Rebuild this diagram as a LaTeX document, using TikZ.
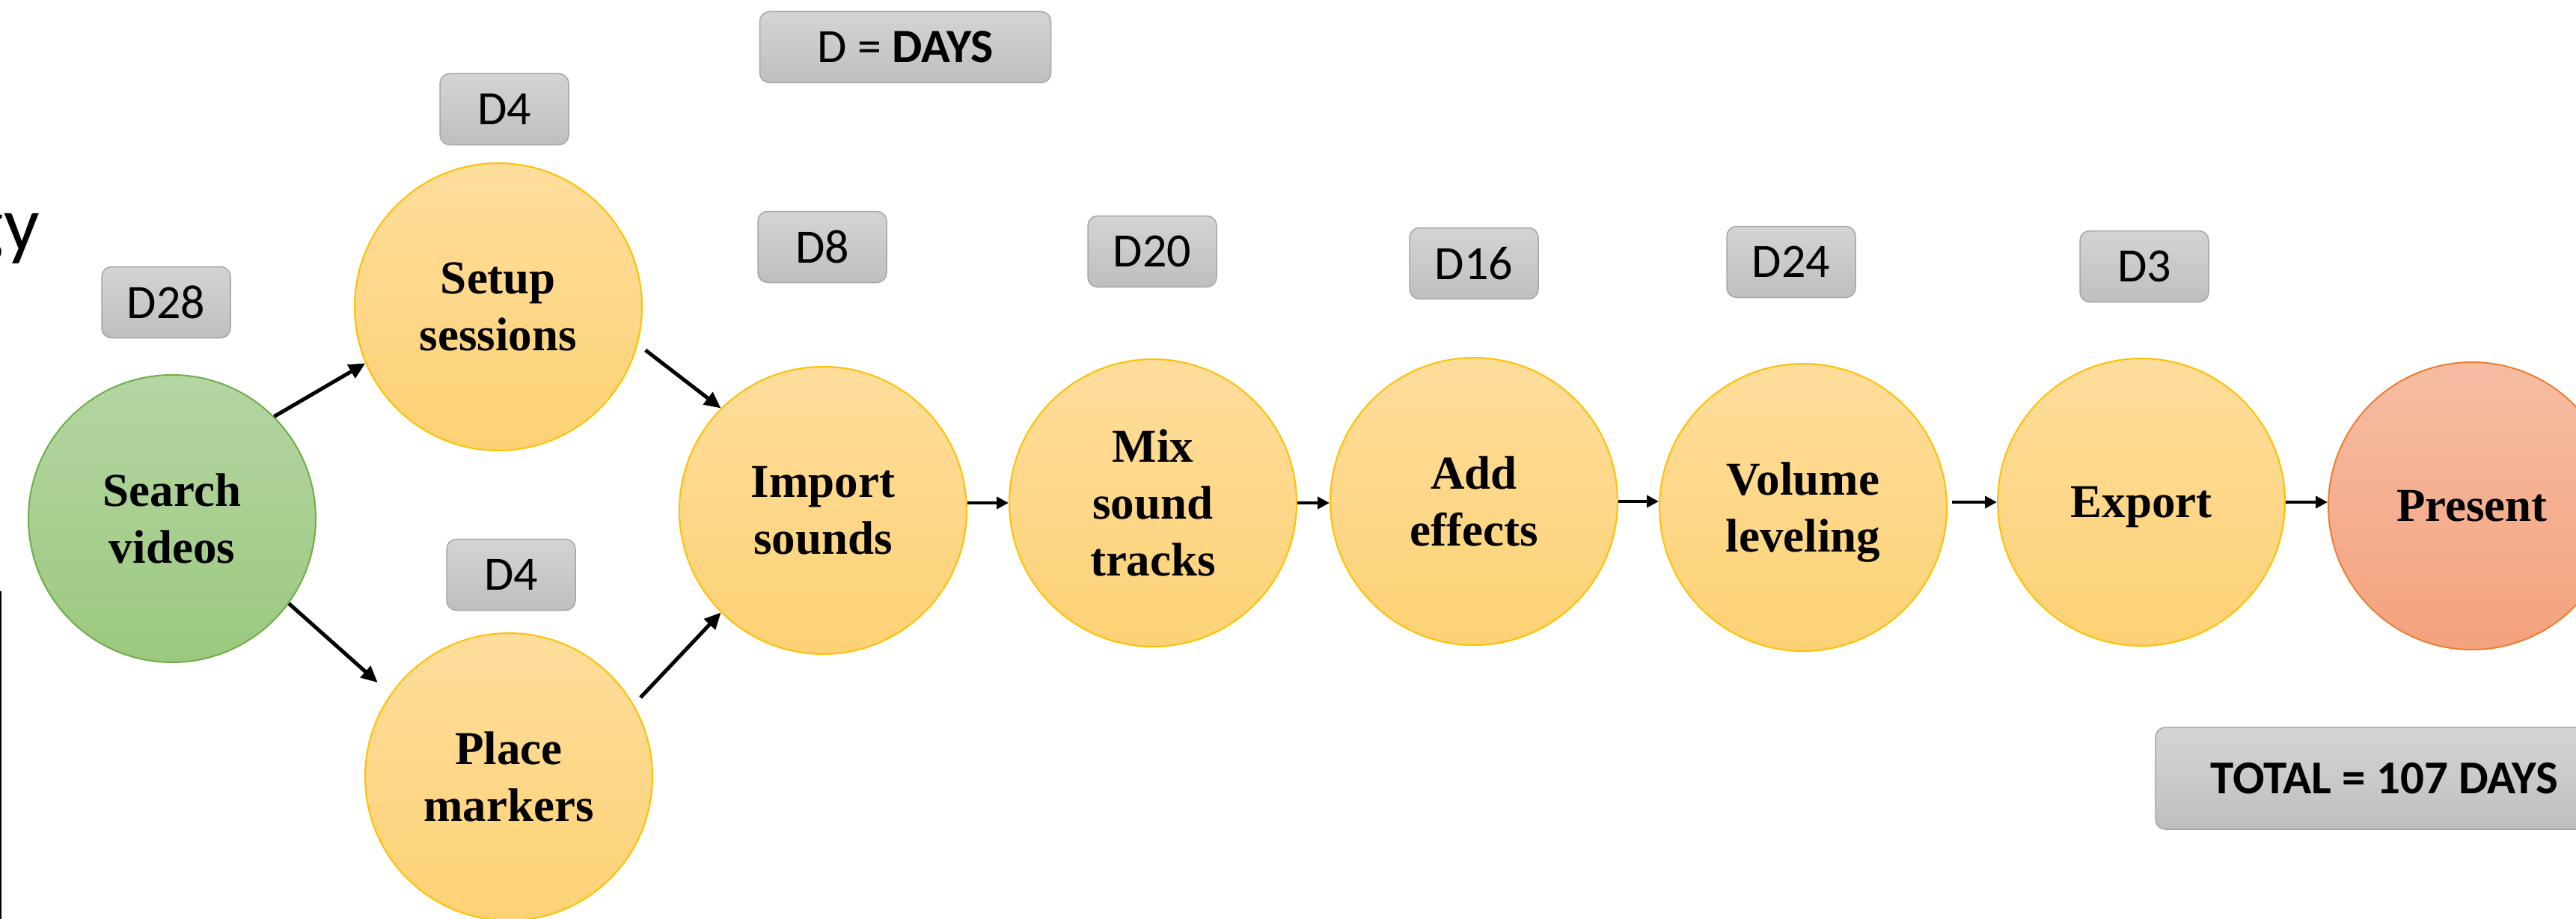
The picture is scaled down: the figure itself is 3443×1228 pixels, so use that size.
\documentclass[tikz,border=0pt]{standalone}
\usepackage{fontspec}
\setmainfont{Liberation Serif}
\newfontfamily\calibri{Carlito}
\usetikzlibrary{arrows.meta}
\definecolor{orTop}{HTML}{FEDD9C}
\definecolor{orBot}{HTML}{FDD275}
\definecolor{orLine}{HTML}{FFC000}
\definecolor{grTop}{HTML}{B4D6A3}
\definecolor{grBot}{HTML}{9CC87E}
\definecolor{grLine}{HTML}{70AD47}
\definecolor{rdTop}{HTML}{F6BDA3}
\definecolor{rdBot}{HTML}{F4A27E}
\definecolor{rdLine}{HTML}{ED7D31}
\definecolor{bxTop}{HTML}{D4D4D4}
\definecolor{bxBot}{HTML}{BFBFBF}
\definecolor{bxLine}{HTML}{A6A6A6}
\tikzset{
  task/.style={circle, minimum size=384pt, inner sep=0pt, draw=orLine, line width=2pt,
    top color=orTop, bottom color=orBot, text depth=0pt,
    font=\bfseries\fontsize{63}{76}\selectfont, align=center},
  firsttask/.style={task, draw=grLine, top color=grTop, bottom color=grBot},
  endtask/.style={task, draw=rdLine, top color=rdTop, bottom color=rdBot},
  dbox/.style={rectangle, rounded corners=13pt, draw=bxLine, line width=1.5pt,
    top color=bxTop, bottom color=bxBot, minimum width=172pt, minimum height=95pt,
    inner sep=0pt, font=\calibri\fontsize{64}{76}\selectfont},
  harr/.style={-{Triangle[length=16pt,width=16pt]}, line width=4pt},
  darr/.style={-{Triangle[length=22pt,width=20pt]}, line width=5pt}
}
\begin{document}
\begin{tikzpicture}[x=1pt, y=-1pt]
\useasboundingbox (0,0) rectangle (3443,1228);
\fill[white] (0,0) rectangle (3443,1228);
% cut-off fragments at the left edge
\node[anchor=base east, inner sep=0pt, font=\calibri\fontsize{105}{120}\selectfont] (frag) at (53,335) {gy};
\draw[line width=2.5pt] (1,790) -- (1,1228);
% tasks
\node[firsttask] (search) at (230,693) {Search\\videos};
\node[task] (setup) at (666,410) {Setup\\sessions};
\node[task] (place) at (680,1038) {Place\\markers};
\node[task] (import) at (1100,682) {Import\\sounds};
\node[task] (mix) at (1541,672) {Mix\\sound\\tracks};
\node[task] (add) at (1970,670) {Add\\effects};
\node[task] (vol) at (2410,678) {Volume\\leveling};
\node[task] (export) at (2862,671) {Export};
\node[endtask] (present) at (3304,676) {Present};
% durations
\node[dbox, minimum width=389pt] (legend) at (1210,63) {D = \textbf{DAYS}};
\node[dbox] (dsetup) at (674,146) {D4};
\node[dbox] (dsearch) at (222,404) {D28};
\node[dbox] (dplace) at (683,768) {D4};
\node[dbox] (dimport) at (1099,330) {D8};
\node[dbox] (dmix) at (1540,336) {D20};
\node[dbox] (dadd) at (1970,352) {D16};
\node[dbox] (dvol) at (2394,350) {D24};
\node[dbox] (dexport) at (2866,356) {D3};
\node[dbox, minimum width=612pt, minimum height=136pt,
  font=\calibri\bfseries\fontsize{63}{76}\selectfont] (total) at (3187,1040) {TOTAL = 107 DAYS};
% connectors
\draw[darr] (search.45) -- (setup.203);
\draw[darr, shorten >=23pt] (search.-36) -- (place.145);
\draw[darr, shorten <=13pt] (setup.-15) -- (import.135);
\draw[darr, shorten <=13pt] (place.30) -- (import.-135);
\draw[harr] (import.east |- mix.west) -- (mix.west);
\draw[harr] (mix.east) -- (mix.east -| add.west);
\draw[harr] (add.east) -- (add.east -| vol.west);
\draw[harr, shorten <=6pt] (vol.east |- export.west) -- (export.west);
\draw[harr] (export.east) -- (export.east -| present.west);
\end{tikzpicture}
\end{document}
